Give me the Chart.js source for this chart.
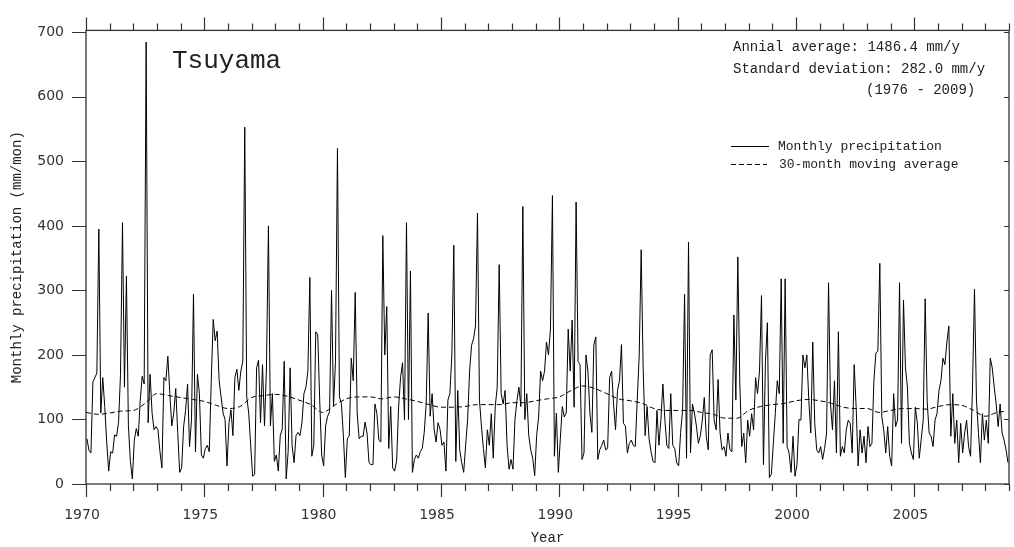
<!DOCTYPE html>
<html>
<head>
<meta charset="utf-8">
<script src="https://cdn.jsdelivr.net/npm/chart.js@4/dist/chart.umd.min.js"></script>
<style>
html,body{margin:0;padding:0;background:#fff;}
canvas{display:block;}
</style>
</head>
<body>
<canvas id="c" width="1014" height="547"></canvas>
<script>
// Monthly precipitation (mm/mon), Jan..Dec of each year
const p1970s = [
  70, 52, 48,158,165,172,395,110,165,120, 65, 20,   // 1970
  50, 48, 76, 74, 95,170,405,150,322, 90, 35,  8,   // 1971
  68, 86, 74,130,167,155,685, 95,170,110, 84, 89,   // 1972
  84, 50, 25,165,160,198,140, 90,110,148, 80, 18,   // 1973
  25, 89,114,155, 58,100,294, 50,170,140, 45, 40,   // 1974
  55, 60, 50,160,255,222,237,160,135,110,100, 28,   // 1975
  95,115, 75,165,178,145,175,190,553,135,110, 60,   // 1976
  12, 15,180,192, 95,185, 90,180,400, 90,140, 35,   // 1977
  45, 20, 75, 85,190,  8, 50,180, 60, 33, 75, 80,   // 1978
  75, 95,140,150,175,320, 43, 60,236,231,130, 45    // 1979
];
const p1980s = [
  28, 90,105,112,300,120,190,520,135,125, 75, 10,   // 1980
  70, 75,195,160,297,110, 70, 74, 74, 96, 79, 33,   // 1981
  30, 30,124,109, 68, 65,385,200,275, 55,120, 25,   // 1982
  20, 36,119,165,188, 99,405,100,330, 18, 38, 45,   // 1983
  40, 50, 55, 80,125,265,105,140, 85, 65, 95, 85,   // 1984
  60, 65, 20,130,140,200,370, 35,145, 53, 33, 18,   // 1985
  60,100,175,215,225,245,420,130, 90, 55, 25, 84,   // 1986
  60,109, 40,120,150,340,140,124,145, 60, 23, 38,   // 1987
  23,100,129,150,120,430,100,140, 75, 53, 40, 13,   // 1988
  75,104,175,160,175,220,200,240,447, 43,110, 18    // 1989
];
const p1990s = [
  70,120,104,110,240,175,254,119,437,190,185, 38,   // 1990
  48,200,175,110, 80,216,228, 38, 53, 60, 68, 53,   // 1991
  55,165,175,124, 84,145,160,216, 94, 90, 48, 63,   // 1992
  68, 60, 58,130,200,363,180, 75,120, 70, 50, 35,   // 1993
  33,114, 60,100,155,100, 60, 55,140, 60, 55, 33,   // 1994
  28, 80,115,294, 40,375, 48,124,110, 90, 63, 75,   // 1995
  99,134, 74, 53,200,208, 99, 84,162, 79, 53, 58,   // 1996
  43, 79, 53, 50,262,130,352,158, 58, 79, 33, 99,   // 1997
  74,109, 84,165,140,175,292, 30,190,250, 10, 15,   // 1998
  63,109,160,140,318, 63,318, 58, 48, 18, 74, 12    // 1999
];
const p2000s = [
  30,100, 99,200,180,200,129, 79,220, 94, 53, 48,   // 2000
  58, 38, 55, 79,312,124, 84,160, 48,236, 43, 58,   // 2001
  48, 84, 99, 94, 48,185,119, 28, 84, 48, 74, 33,   // 2002
  89, 58, 63,160,203,206,342,104, 84, 48, 89, 43,   // 2003
  28,140, 89, 99,312, 63,285,180,150, 63, 48, 38,   // 2004
 119, 95, 40, 70, 99,287,129, 79, 74, 58, 99,109,   // 2005
 145,160,195,185,220,245, 74,140, 63, 99, 33, 94,   // 2006
  48, 79, 99, 58, 43,150,302,130, 80, 33,109, 68,   // 2007
  99, 63,195,180,150,124, 89,124, 79, 68, 53, 33    // 2008
];
const startYear = 1970;

// 30-month moving average
const maYears  = [1970,1970.5,1971,1971.5,1972,1972.5,1973,1973.5,1974,1974.5,1975,1975.5,1976,1976.5,1977,1977.5,1978,1978.5,1979,1979.5,
                  1980,1980.5,1981,1981.5,1982,1982.5,1983,1983.5,1984,1984.5,1985,1985.5,1986,1986.5,1987,1987.5,1988,1988.5,1989,1989.5,
                  1990,1990.5,1991,1991.5,1992,1992.5,1993,1993.5,1994,1994.5,1995,1995.5,1996,1996.5,1997,1997.5,1998,1998.5,1999,1999.5,
                  2000,2000.5,2001,2001.5,2002,2002.5,2003,2003.5,2004,2004.5,2005,2005.5,2006,2006.5,2007,2007.5,2008,2008.5,2008.9];
const maValues = [111,108,110,113,114,125,140,137,134,131,128,122,117,120,134,137,139,136,130,123,
                  111,122,132,135,135,132,135,132,128,123,119,119,120,123,123,123,126,126,129,132,
                  135,145,152,148,140,132,129,125,117,114,114,114,111,108,102,102,114,120,123,125,
                  129,131,129,125,119,117,117,111,114,117,117,116,120,123,122,114,105,111,113];

const xTickLabels = [1970, 1975, 1980, 1985, 1990, 1995, 2000, 2005];
const yTickLabels = [0, 100, 200, 300, 400, 500, 600, 700];

const monthlyValues = [...p1970s, ...p1980s, ...p1990s, ...p2000s];
const monthly = monthlyValues.map((v, i) => ({x: startYear + (i + 0.5) / 12, y: v}));
const ma = maYears.map((x, i) => ({x: x, y: maValues[i]}));

const INK = '#222';
const MONO = '"Liberation Mono", "DejaVu Sans Mono", monospace';

const framePlugin = {
  id: 'frame',
  afterDraw(chart) {
    const ctx = chart.ctx;
    const {left, right, top, bottom} = chart.chartArea;
    const xs = chart.scales.x, ys = chart.scales.y;
    ctx.save();
    ctx.strokeStyle = '#333';
    ctx.lineWidth = 1.3;
    ctx.strokeRect(left, top, right - left, bottom - top);
    ctx.lineWidth = 1.2;
    ctx.beginPath();
    for (let yr = xs.min; yr <= xs.max; yr++) {
      const px = Math.round(xs.getPixelForValue(yr)) + 0.5;
      const major = yr % 5 === 0;
      const len = major ? 13 : 7;
      ctx.moveTo(px, bottom); ctx.lineTo(px, bottom + len);
      ctx.moveTo(px, top); ctx.lineTo(px, top - len);
    }
    yTickLabels.forEach(v => {
      const py = Math.round(ys.getPixelForValue(v)) + 0.5;
      ctx.moveTo(left - 14, py); ctx.lineTo(left, py);
      ctx.moveTo(right - 5, py); ctx.lineTo(right, py);
    });
    ctx.stroke();

    // Title
    ctx.fillStyle = INK;
    ctx.textBaseline = 'middle';
    ctx.textAlign = 'left';
    ctx.font = '26px ' + MONO;
    ctx.fillText('Tsuyama', 172, 61);

    // Annotations
    ctx.font = '14px ' + MONO;
    ctx.fillText('Annial average: 1486.4 mm/y', 733, 47);
    ctx.fillText('Standard deviation: 282.0 mm/y', 733, 69);
    ctx.fillText('(1976 - 2009)', 866, 90);

    // Legend
    ctx.font = '13px ' + MONO;
    ctx.strokeStyle = '#000';
    ctx.lineWidth = 1;
    ctx.beginPath();
    ctx.moveTo(731, 146.5); ctx.lineTo(769, 146.5);
    ctx.stroke();
    ctx.setLineDash([5, 3]);
    ctx.beginPath();
    ctx.moveTo(731, 164.5); ctx.lineTo(767, 164.5);
    ctx.stroke();
    ctx.setLineDash([]);
    ctx.fillText('Monthly precipitation', 778, 147);
    ctx.fillText('30-month moving average', 779, 165);
    ctx.restore();
  }
};

new Chart(document.getElementById('c').getContext('2d'), {
  type: 'line',
  data: {
    datasets: [
      {
        label: 'Monthly precipitation',
        data: monthly,
        borderColor: '#000',
        borderWidth: 1,
        pointRadius: 0,
        tension: 0
      },
      {
        label: '30-month moving average',
        data: ma,
        borderColor: '#000',
        borderWidth: 1,
        borderDash: [5, 3],
        pointRadius: 0,
        cubicInterpolationMode: 'monotone'
      }
    ]
  },
  options: {
    responsive: false,
    animation: false,
    devicePixelRatio: 1,
    layout: {padding: {top: 23, right: 5, left: 0, bottom: 0}},
    plugins: {legend: {display: false}, tooltip: {enabled: false}},
    scales: {
      x: {
        type: 'linear',
        min: 1970,
        max: 2009,
        afterFit(s) { s.height = 63; },
        afterBuildTicks(s) { s.ticks = xTickLabels.map(v => ({value: v})); },
        grid: {display: false, drawTicks: false},
        border: {display: false},
        ticks: {
          autoSkip: false,
          maxRotation: 0,
          padding: 23,
          labelOffset: -4,
          color: '#333',
          font: {family: '"DejaVu Sans", sans-serif', size: 14},
          callback: v => String(v)
        },
        title: {
          display: true, text: 'Year', color: INK,
          font: {family: MONO, size: 14},
          padding: {top: 0, bottom: 0}
        }
      },
      y: {
        min: 0,
        max: 703,
        afterFit(s) { s.width = 86; },
        afterBuildTicks(s) { s.ticks = yTickLabels.map(v => ({value: v})); },
        grid: {display: false, drawTicks: false},
        border: {display: false},
        ticks: {
          padding: 22,
          color: '#333',
          font: {family: '"DejaVu Sans", sans-serif', size: 14},
          callback: v => String(v)
        },
        title: {
          display: true, text: 'Monthly precipitation (mm/mon)', color: INK,
          font: {family: MONO, size: 14},
          padding: {top: 9, bottom: 0}
        }
      }
    }
  },
  plugins: [framePlugin]
});
</script>
</body>
</html>
